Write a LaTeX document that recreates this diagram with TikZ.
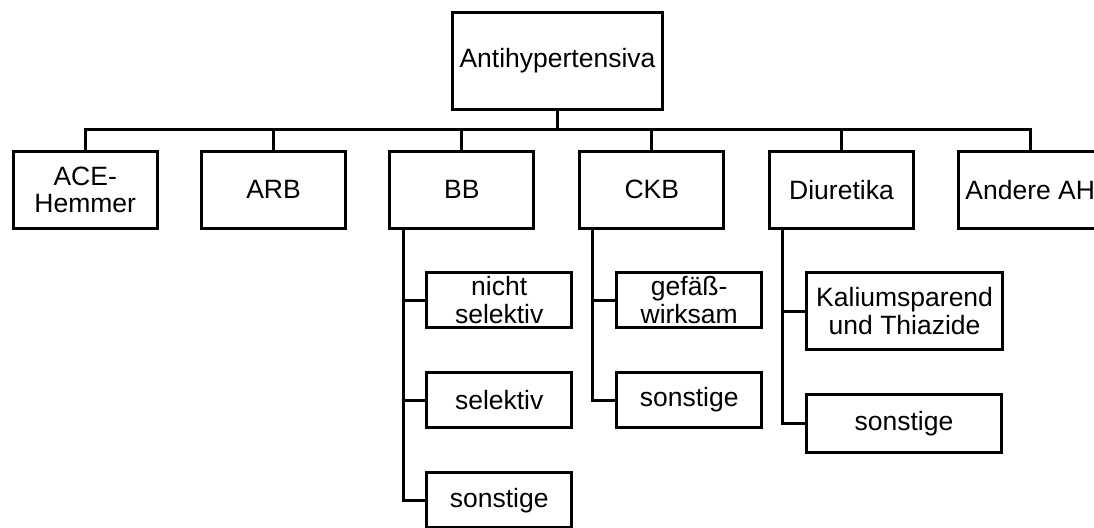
\documentclass[tikz,border=0pt]{standalone}
\usepackage{fontspec}
\setmainfont{Liberation Sans}
\begin{document}
\begin{tikzpicture}[x=1pt,y=-1pt,
  box/.style={draw, line width=3pt, inner sep=0pt, align=center,
    font=\fontsize{26.5}{27.5}\selectfont},
  lvl/.style={box, minimum width=144pt, minimum height=76.5pt},
  sub/.style={box, minimum width=145.4pt, minimum height=55.3pt},
  conn/.style={line width=3pt}]
\useasboundingbox (0,0) rectangle (1094,527);
\fill[white] (0,0) rectangle (1094,527);
\clip (0,0) rectangle (1094,527);
% root
\node[box, minimum width=210pt, minimum height=97pt] (root) at (557.5,61) {Antihypertensiva};
\coordinate (bus) at (557.5,129.3);
% level 1
\node[lvl] (ace) at (85.2,189.8) {ACE-\\Hemmer};
\node[lvl] (arb) at (273.5,189.8) {ARB};
\node[lvl] (bb)  at (461.8,189.8) {BB};
\node[lvl] (ckb) at (651.8,189.8) {CKB};
\node[lvl] (diu) at (841.5,189.8) {Diuretika};
\node[lvl] (and) at (1030.2,189.8) {Andere AH};
\draw[conn] (root.south) -- (bus);
\foreach \n in {ace,arb,bb,ckb,diu,and}{\draw[conn] (\n.north) |- (bus);}
% BB children
\node[sub] (bb1) at (499.2,300.2) {nicht\\selektiv};
\node[sub] (bb2) at (499.2,400) {selektiv};
\node[sub] (bb3) at (499.2,500.2) {sonstige};
\coordinate (bbv) at ([xshift=15pt]bb.south west);
\foreach \n in {bb1,bb2,bb3}{\draw[conn] (bbv) |- (\n.west);}
% CKB children
\node[sub] (ck1) at (689.2,300.2) {gefäß-\\wirksam};
\node[sub] (ck2) at (689.2,400) {sonstige};
\coordinate (ckv) at ([xshift=14.2pt]ckb.south west);
\foreach \n in {ck1,ck2}{\draw[conn] (ckv) |- (\n.west);}
% Diuretika children
\node[box, minimum width=196.3pt, minimum height=77.3pt] (di1) at (904.6,311.2) {Kaliumsparend\\und Thiazide};
\node[box, minimum width=195.5pt, minimum height=57.7pt] (di2) at (904,423.4) {sonstige};
\coordinate (div) at ([xshift=14.7pt]diu.south west);
\foreach \n in {di1,di2}{\draw[conn] (div) |- (\n.west);}
\end{tikzpicture}
\end{document}
